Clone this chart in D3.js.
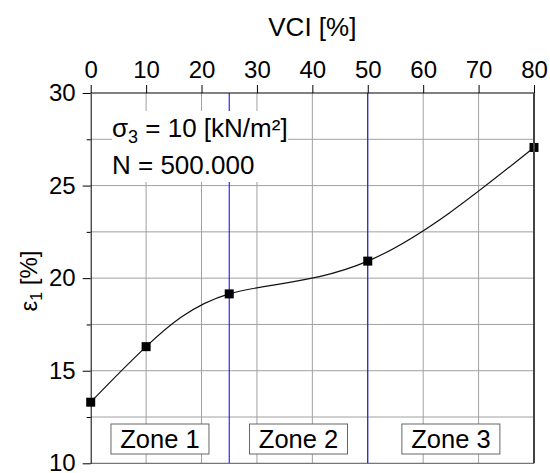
<!DOCTYPE html>
<html>
<head>
<meta charset="utf-8">
<script src="https://cdn.jsdelivr.net/npm/d3@7"></script>
<style>
  html, body { margin: 0; padding: 0; background: #fff; }
  svg { display: block; font-family: "Liberation Sans", Arial, sans-serif; }
</style>
</head>
<body>
<svg id="chart" width="550" height="473"></svg>
<script>
// VCI values (x) and axial strain ε1 (y) at N = 500.000 cycles
const vci = [0, 10, 25, 50, 80];
const strain = [13.3, 16.3, 19.15, 20.92, 27.06];

// Tick values
const xTicks = [0, 10, 20, 30, 40, 50, 60, 70, 80];
const yTicks = [10, 15, 20, 25, 30];
const yMinorTicks = [12.5, 17.5, 22.5, 27.5];

// Zone boundaries (VCI %) and names
const zoneBounds = [0, 25, 50, 80];
const zoneNames = ["Zone 1", "Zone 2", "Zone 3"];

const svg = d3.select("#chart");
const pLeft = 90.7, pRight = 534, pTop = 93, pBottom = 463.3;

const x = d3.scaleLinear().domain([0, 80]).range([pLeft, pRight]);
const y = d3.scaleLinear().domain([10, 30]).range([pBottom, pTop]);

const gridColor = "#a0a0a0";

// horizontal grid at every 2.5 %
const hGrid = d3.range(12.5, 30, 2.5);
svg.append("g").selectAll("line").data(hGrid).join("line")
  .attr("x1", pLeft).attr("x2", pRight)
  .attr("y1", d => y(d)).attr("y2", d => y(d))
  .attr("stroke", gridColor).attr("stroke-width", 1);

// vertical grid at every 10 %
svg.append("g").selectAll("line").data(xTicks.slice(1, -1)).join("line")
  .attr("x1", d => x(d)).attr("x2", d => x(d))
  .attr("y1", pTop).attr("y2", pBottom)
  .attr("stroke", gridColor).attr("stroke-width", 1);

// zone separators
svg.append("g").selectAll("line").data(zoneBounds.slice(1, -1)).join("line")
  .attr("x1", d => x(d)).attr("x2", d => x(d))
  .attr("y1", pTop).attr("y2", pBottom)
  .attr("stroke", "#0000ff").attr("stroke-width", 1);

// annotation block
svg.append("rect").attr("x", 112).attr("y", 111).attr("width", 176).attr("height", 71)
  .attr("fill", "#fff");
const t1 = svg.append("text").attr("x", 112).attr("y", 137).attr("font-size", 26).attr("fill", "#000");
t1.append("tspan").text("σ");
t1.append("tspan").attr("font-size", 18).attr("dy", 6).text("3");
t1.append("tspan").attr("dy", -6).text(" = 10 [kN/m²]");
svg.append("text").attr("x", 112).attr("y", 174).attr("font-size", 26).attr("fill", "#000")
  .text("N = 500.000");

// zone labels
const zones = zoneNames.map((name, i) => ({ name, mid: (zoneBounds[i] + zoneBounds[i + 1]) / 2 }));
const zg = svg.append("g").selectAll("g").data(zones).join("g")
  .attr("transform", d => `translate(${x(d.mid)},439)`);
zg.append("rect").attr("x", -49).attr("y", -15).attr("width", 98).attr("height", 30)
  .attr("fill", "#fff").attr("stroke", "#666").attr("stroke-width", 1);
zg.append("text").attr("text-anchor", "middle").attr("y", 9.3)
  .attr("font-size", 25.5).attr("fill", "#000").text(d => d.name);

// strain curve
const pts = vci.map((v, i) => [v, strain[i]]);
const line = d3.line().x(d => x(d[0])).y(d => y(d[1])).curve(d3.curveNatural);
svg.append("path").datum(pts).attr("d", line)
  .attr("fill", "none").attr("stroke", "#111").attr("stroke-width", 1.2);

// markers
svg.append("g").selectAll("rect").data(pts).join("rect")
  .attr("x", d => x(d[0]) - 4.5).attr("y", d => y(d[1]) - 4.5)
  .attr("width", 9).attr("height", 9).attr("fill", "#000");

// frame
svg.append("line").attr("x1", pLeft).attr("x2", pRight).attr("y1", pTop).attr("y2", pTop)
  .attr("stroke", "#000").attr("stroke-width", 1);
svg.append("line").attr("x1", pLeft).attr("x2", pRight).attr("y1", pBottom).attr("y2", pBottom)
  .attr("stroke", "#555").attr("stroke-width", 1);
svg.append("line").attr("x1", pRight).attr("x2", pRight).attr("y1", pTop).attr("y2", pBottom)
  .attr("stroke", "#444").attr("stroke-width", 2);

// top axis
const xAxis = svg.append("g").attr("transform", `translate(0,${pTop})`)
  .call(d3.axisTop(x).tickValues(xTicks).tickSize(8).tickPadding(7).tickSizeOuter(0));
xAxis.select(".domain").remove();
xAxis.selectAll("text").attr("font-size", 24).attr("font-family", "Liberation Sans, Arial, sans-serif").attr("fill", "#000");
xAxis.selectAll("line").attr("stroke", "#000");

// left axis
const yAxis = svg.append("g").attr("transform", `translate(${pLeft},0)`)
  .call(d3.axisLeft(y).tickValues(yTicks).tickSize(8).tickPadding(7).tickSizeOuter(0));
yAxis.select(".domain").attr("stroke", "#000");
yAxis.selectAll("text").attr("font-size", 24).attr("font-family", "Liberation Sans, Arial, sans-serif").attr("fill", "#000");
yAxis.selectAll("line").attr("stroke", "#000");

const yMinor = svg.append("g").attr("transform", `translate(${pLeft},0)`)
  .call(d3.axisLeft(y).tickValues(yMinorTicks).tickSize(4).tickFormat("").tickSizeOuter(0));
yMinor.select(".domain").remove();
yMinor.selectAll("line").attr("stroke", "#000");

// axis titles
svg.append("text").attr("x", (pLeft + pRight) / 2).attr("y", 36).attr("text-anchor", "middle")
  .attr("font-size", 26).attr("fill", "#000").text("VCI [%]");
const yt = svg.append("text").attr("transform", "translate(37,281) rotate(-90)")
  .attr("text-anchor", "middle").attr("font-size", 24).attr("fill", "#000");
yt.append("tspan").text("ε");
yt.append("tspan").attr("font-size", 16).attr("dy", 5).text("1");
yt.append("tspan").attr("dy", -5).text(" [%]");
</script>
</body>
</html>
